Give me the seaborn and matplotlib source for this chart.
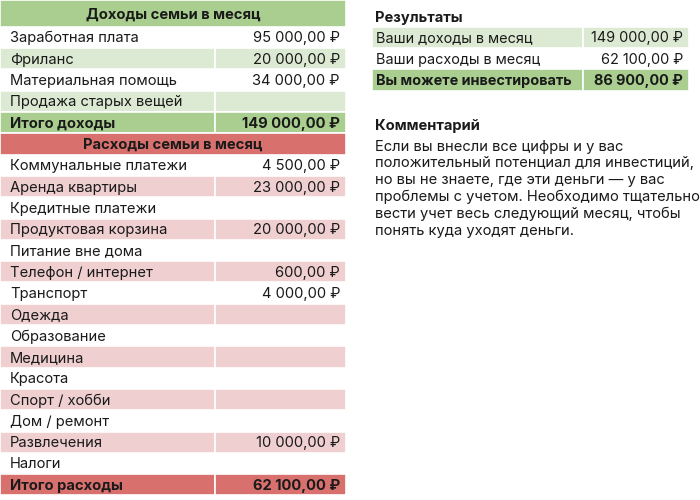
import matplotlib
matplotlib.use("Agg")
import matplotlib.pyplot as plt
from matplotlib.patches import Rectangle
import seaborn as sns

# ---------------- data ----------------
income_title = "Доходы семьи в месяц"
income_labels = ["Заработная плата", "Фриланс", "Материальная помощь", "Продажа старых вещей"]
income_values = [95000, 20000, 34000, None]
income_total_label = "Итого доходы"
income_total = 149000

expense_title = "Расходы семьи в месяц"
expense_labels = ["Коммунальные платежи", "Аренда квартиры", "Кредитные платежи",
                  "Продуктовая корзина", "Питание вне дома", "Телефон / интернет",
                  "Транспорт", "Одежда", "Образование", "Медицина", "Красота",
                  "Спорт / хобби", "Дом / ремонт", "Развлечения", "Налоги"]
expense_values = [4500, 23000, None, 20000, None, 600, 4000, None, None, None,
                  None, None, None, 10000, None]
expense_total_label = "Итого расходы"
expense_total = 62100

results_title = "Результаты"
results_labels = ["Ваши доходы в месяц", "Ваши расходы в месяц", "Вы можете инвестировать"]
results_values = [149000, 62100, 86900]

comment_title = "Комментарий"
comment_lines = ["Если вы внесли все цифры и у вас",
                 "положительный потенциал для инвестиций,",
                 "но вы не знаете, где эти деньги — у вас",
                 "проблемы с учетом. Необходимо тщательно",
                 "вести учет весь следующий месяц, чтобы",
                 "понять куда уходят деньги."]

# ---------------- style ----------------
sns.set_theme(style="white")
plt.rcParams["font.family"] = ["Inter", "DejaVu Sans"]

GREEN_DARK = "#a9ce8f"
GREEN_LIGHT = "#dcead3"
RED_DARK = "#d8706e"
PINK = "#efcfcf"
TXT = "#1a1a1a"
FS = 10.6
BASE = 5.0   # baseline offset below row centre (px)


def fmt(v):
    if v is None:
        return ""
    s = f"{v:,.2f}".replace(",", " ").replace(".", ",")
    return s + " ₽"


fig = plt.figure(figsize=(7, 5), dpi=100)
ax = fig.add_axes([0, 0, 1, 1])
ax.set_xlim(0, 700)
ax.set_ylim(500, 0)
ax.axis("off")

H = 21.3
TOP = 5.5
LX0, LSEP, LX1 = 0, 215, 346


def row_top(i):
    return TOP + H * i


def cell(x0, x1, y0, y1, color):
    ax.add_patch(Rectangle((x0, y0), x1 - x0, y1 - y0, facecolor=color,
                           edgecolor="white", lw=1.2))


def row(i, label, value, color, bold=False, x0=LX0, sep=LSEP, x1=LX1, pad=10, fs=FS):
    y0, y1 = row_top(i), row_top(i + 1)
    if color is not None:
        cell(x0, sep, y0, y1, color)
        cell(sep, x1, y0, y1, color)
    yb = (y0 + y1) / 2 + BASE
    w = "bold" if bold else "normal"
    ax.text(x0 + pad, yb, label, ha="left", va="baseline", fontsize=fs,
            color=TXT, fontweight=w)
    ax.text(x1 - 6, yb, fmt(value), ha="right", va="baseline", fontsize=fs,
            color=TXT, fontweight=w)


def header(i, title, color):
    y0, y1 = row_top(i), row_top(i + 1)
    if i == 0:
        y0 = 0
    cell(LX0, LX1, y0, y1, color)
    ax.text((LX0 + LX1) / 2, (y0 + y1) / 2 + BASE + (0.5 if i == 0 else 0),
            title, ha="center", va="baseline", fontsize=FS, fontweight="bold", color=TXT)


# income block
header(0, income_title, GREEN_DARK)
for k, (lab, val) in enumerate(zip(income_labels, income_values)):
    row(1 + k, lab, val, GREEN_LIGHT if k % 2 == 1 else None)
row(5, income_total_label, income_total, GREEN_DARK, bold=True)

# expense block
header(6, expense_title, RED_DARK)
for k, (lab, val) in enumerate(zip(expense_labels, expense_values)):
    row(7 + k, lab, val, PINK if k % 2 == 1 else None)
row(22, expense_total_label, expense_total, RED_DARK, bold=True)

# results block
RX0, RSEP, RX1 = 372, 583, 689
ax.text(RX0 + 3, 17 + BASE, results_title, ha="left", va="baseline", fontsize=FS,
        fontweight="bold", color=TXT)
res_colors = [GREEN_LIGHT, None, GREEN_DARK]
for k, (lab, val) in enumerate(zip(results_labels, results_values)):
    row(1 + k, lab, val, res_colors[k], bold=(k == 2), x0=RX0, sep=RSEP, x1=RX1,
        pad=4, fs=10.4)

# comment block
ax.text(RX0 + 3, 125 + BASE, comment_title, ha="left", va="baseline", fontsize=FS,
        fontweight="bold", color=TXT)
for k, line in enumerate(comment_lines):
    ax.text(RX0 + 3, 145.5 + BASE + 16.8 * k, line, ha="left", va="baseline",
            fontsize=10.6, color=TXT)

fig.savefig("out.png", dpi=100)
